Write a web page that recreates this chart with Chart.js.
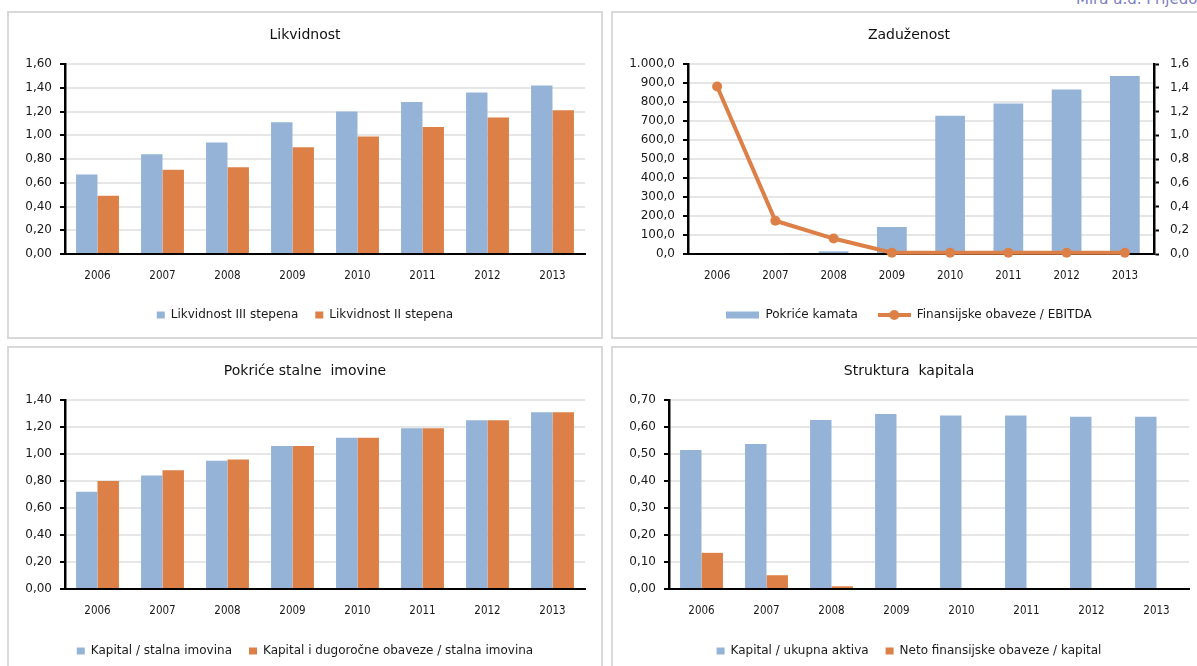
<!DOCTYPE html>
<html>
<head>
<meta charset="utf-8">
<script src="https://cdn.jsdelivr.net/npm/chart.js@4.4.1/dist/chart.umd.min.js"></script>
<style>
  body { margin: 0; width: 1197px; height: 666px; overflow: hidden; position: relative; background: #fff; }
  .frame { position: absolute; border: 2px solid #d9d9d9; box-sizing: border-box; }
  .box { position: absolute; width: 592px; height: 324px; }
  #brand { position: absolute; left: 1076px; top: -10px; font: 15px "DejaVu Sans", sans-serif; color: #7c80c2; white-space: nowrap; }
</style>
</head>
<body>
<div id="brand">Mira a.d. Prijedor</div>
<div class="frame" style="left:7px;top:11px;width:596px;height:328px"></div>
<div class="frame" style="left:611px;top:11px;width:596px;height:328px"></div>
<div class="frame" style="left:7px;top:346px;width:596px;height:330px"></div>
<div class="frame" style="left:611px;top:346px;width:596px;height:330px"></div>
<div class="box" style="left:9px;top:13px"><canvas id="likvidnost"></canvas></div>
<div class="box" style="left:613px;top:13px"><canvas id="zaduzenost"></canvas></div>
<div class="box" style="left:9px;top:348px"><canvas id="pokrice"></canvas></div>
<div class="box" style="left:613px;top:348px"><canvas id="struktura"></canvas></div>
<script>
// values
const years = ["2006", "2007", "2008", "2009", "2010", "2011", "2012", "2013"];

const likvidnost3 = [0.67, 0.84, 0.94, 1.11, 1.20, 1.28, 1.36, 1.42];
const likvidnost2 = [0.49, 0.71, 0.73, 0.90, 0.99, 1.07, 1.15, 1.21];

const pokriceKamata = [0, 5, 14, 142, 727, 792, 866, 937];
const finObavezeEbitda = [1.41, 0.28, 0.13, 0.01, 0.01, 0.01, 0.01, 0.01];

const kapitalStalna = [0.72, 0.84, 0.95, 1.06, 1.12, 1.19, 1.25, 1.31];
const kapitalDugorocne = [0.80, 0.88, 0.96, 1.06, 1.12, 1.19, 1.25, 1.31];

const kapitalAktiva = [0.515, 0.537, 0.626, 0.648, 0.643, 0.643, 0.638, 0.638];
const netoObavezeKapital = [0.134, 0.051, 0.01, 0, 0, 0, 0, 0];

const blue = "#95B3D7";
const orange = "#DD8047";
const sans = '"DejaVu Sans", sans-serif';
const cond = '"DejaVu Sans Condensed", "DejaVu Sans", sans-serif';

Chart.defaults.animation = false;
Chart.defaults.color = "#1a1a1a";

function dec(n) {
  return (v) => v.toFixed(n).replace(".", ",");
}
function thousands(v) {
  const parts = v.toFixed(1).split(".");
  return parts[0].replace(/\B(?=(\d{3})+$)/g, ".") + "," + parts[1];
}

function yAxis(max, step, fmt, width, pos) {
  return {
    position: pos || "left",
    min: 0,
    max: max,
    afterFit: (s) => { s.width = width; },
    ticks: { stepSize: step, callback: fmt, padding: 8, font: { family: sans, size: 12 }, color: "#1a1a1a" },
    grid: { color: "#e6e6e6", lineWidth: 2, tickColor: "#000", tickLength: 5, tickWidth: 2 },
    border: { color: "#000", width: 2.5 },
  };
}

function baseOptions(title, titleTop, xHeight, legendPad, bottomPad, scales) {
  return {
    responsive: true,
    maintainAspectRatio: false,
    layout: { padding: { top: 0, left: 0, right: 0, bottom: bottomPad } },
    plugins: {
      title: {
        display: true,
        text: title,
        color: "#111",
        font: { family: sans, size: 14, weight: "normal" },
        padding: { top: titleTop, bottom: 51 - titleTop - 16.8 + (titleTop > 14 ? 1 : 0) },
      },
      legend: {
        position: "bottom",
        labels: { boxWidth: 8, boxHeight: 7, padding: legendPad, font: { family: sans, size: 12 }, color: "#1a1a1a" },
      },
      tooltip: { enabled: false },
    },
    scales: Object.assign({
      x: {
        afterFit: (s) => { s.height = xHeight; },
        ticks: { padding: 15, maxRotation: 0, font: { family: cond, size: 11.5 }, color: "#1a1a1a" },
        grid: { display: false, drawTicks: false },
        border: { color: "#000", width: 2 },
      },
    }, scales),
  };
}

function spacer(width) {
  return {
    position: "right",
    display: true,
    afterFit: (s) => { s.width = width; },
    ticks: { display: false },
    grid: { display: false, drawTicks: false },
    border: { display: false },
  };
}

// Likvidnost
new Chart("likvidnost", {
  type: "bar",
  data: {
    labels: years,
    datasets: [
      { label: "Likvidnost III stepena", data: likvidnost3, backgroundColor: blue, categoryPercentage: 0.66, barPercentage: 1 },
      { label: "Likvidnost II stepena", data: likvidnost2, backgroundColor: orange, categoryPercentage: 0.66, barPercentage: 1 },
    ],
  },
  options: baseOptions("Likvidnost", 13.6, 38, 17, 6, {
    y: yAxis(1.6, 0.2, dec(2), 56),
    pad: spacer(16),
  }),
});

// Zaduzenost - legend icons drawn as small canvases
function icon(drawFn) {
  const c = document.createElement("canvas");
  c.width = 33;
  c.height = 12;
  drawFn(c.getContext("2d"));
  return c;
}
const barIcon = icon((ctx) => {
  ctx.fillStyle = blue;
  ctx.fillRect(0, 2.5, 33, 7);
});
const lineIcon = icon((ctx) => {
  ctx.strokeStyle = orange;
  ctx.lineWidth = 4;
  ctx.beginPath();
  ctx.moveTo(0, 6);
  ctx.lineTo(33, 6);
  ctx.stroke();
  ctx.fillStyle = orange;
  ctx.beginPath();
  ctx.arc(16.5, 6, 5, 0, Math.PI * 2);
  ctx.fill();
});

const zadOptions = baseOptions("Zaduženost", 13.6, 35, 20, 6, {
  y: yAxis(1000, 100, thousands, 75),
  y1: yAxis(1.6, 0.2, dec(1), 51, "right"),
});
zadOptions.scales.y1.grid = { drawOnChartArea: false, tickColor: "#000", tickLength: 5, tickWidth: 2 };
zadOptions.scales.y1.ticks.padding = 11;
zadOptions.plugins.legend.labels = {
  usePointStyle: true,
  pointStyleWidth: 33,
  padding: 20,
  font: { family: sans, size: 12 },
  color: "#1a1a1a",
  sort: (a, b) => a.datasetIndex - b.datasetIndex,
  generateLabels: (chart) => {
    const items = Chart.defaults.plugins.legend.labels.generateLabels(chart);
    items.forEach((it) => { it.pointStyle = it.datasetIndex === 0 ? barIcon : lineIcon; });
    return items;
  },
};

new Chart("zaduzenost", {
  type: "bar",
  data: {
    labels: years,
    datasets: [
      { label: "Pokriće kamata", data: pokriceKamata, backgroundColor: blue, yAxisID: "y", order: 1, categoryPercentage: 0.51, barPercentage: 1 },
      {
        type: "line", label: "Finansijske obaveze / EBITDA", data: finObavezeEbitda, yAxisID: "y1", order: 0,
        borderColor: orange, backgroundColor: orange, borderWidth: 4, pointRadius: 5, pointBackgroundColor: orange,
        pointBorderWidth: 0, clip: false, tension: 0,
      },
    ],
  },
  options: zadOptions,
});

// Pokrice stalne imovine
new Chart("pokrice", {
  type: "bar",
  data: {
    labels: years,
    datasets: [
      { label: "Kapital / stalna imovina", data: kapitalStalna, backgroundColor: blue, categoryPercentage: 0.66, barPercentage: 1 },
      { label: "Kapital i dugoročne obaveze / stalna imovina", data: kapitalDugorocne, backgroundColor: orange, categoryPercentage: 0.66, barPercentage: 1 },
    ],
  },
  options: baseOptions("Pokriće stalne  imovine", 14.6, 39, 17, 5, {
    y: yAxis(1.4, 0.2, dec(2), 56),
    pad: spacer(16),
  }),
});

// Struktura kapitala
new Chart("struktura", {
  type: "bar",
  data: {
    labels: years,
    datasets: [
      { label: "Kapital / ukupna aktiva", data: kapitalAktiva, backgroundColor: blue, categoryPercentage: 0.66, barPercentage: 1 },
      { label: "Neto finansijske obaveze / kapital", data: netoObavezeKapital, backgroundColor: orange, categoryPercentage: 0.66, barPercentage: 1 },
    ],
  },
  options: baseOptions("Struktura  kapitala", 14.6, 39, 17, 5, {
    y: yAxis(0.7, 0.1, dec(2), 56),
    pad: spacer(16),
  }),
});
</script>
</body>
</html>
